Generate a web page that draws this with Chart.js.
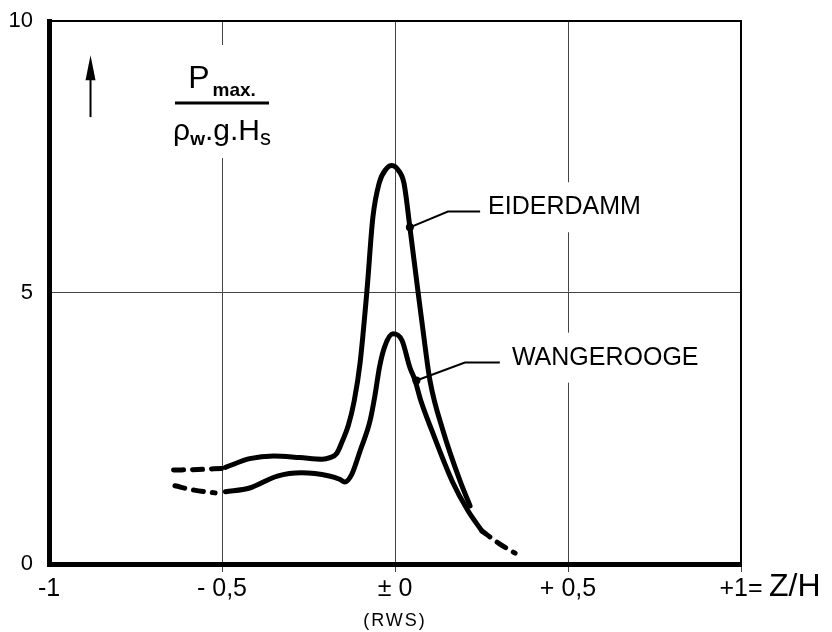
<!DOCTYPE html>
<html>
<head>
<meta charset="utf-8">
<script src="https://cdn.jsdelivr.net/npm/chart.js@4.4.0/dist/chart.umd.min.js"></script>
<style>
html, body { margin: 0; padding: 0; background: #fff; }
</style>
</head>
<body>
<canvas id="myChart" width="832" height="632"></canvas>
<script>
// x = z/H, y = Pmax / (rho_w . g . Hs)
var eiderX = [-0.49, -0.42, -0.35, -0.275, -0.21, -0.188, -0.168, -0.153, -0.135, -0.118, -0.101, -0.081, -0.064, -0.046, -0.025, -0.009, 0.01, 0.026, 0.043, 0.066, 0.081, 0.101, 0.139, 0.188, 0.217];
var eiderY = [1.78, 1.94, 1.99, 1.96, 1.93, 1.96, 2.04, 2.25, 2.55, 3.0, 3.7, 5.04, 6.38, 7.01, 7.28, 7.34, 7.25, 7.01, 6.2, 5.04, 4.3, 3.38, 2.45, 1.53, 1.07];
var eiderDashX = [-0.64, -0.57, -0.5];
var eiderDashY = [1.73, 1.74, 1.76];

var wangX = [-0.49, -0.42, -0.34, -0.27, -0.19, -0.16, -0.145, -0.125, -0.1, -0.072, -0.058, -0.045, -0.03, -0.006, 0.02, 0.043, 0.058, 0.075, 0.107, 0.165, 0.211, 0.251];
var wangY = [1.33, 1.4, 1.62, 1.68, 1.62, 1.56, 1.51, 1.65, 2.1, 2.64, 3.1, 3.62, 4.0, 4.24, 4.12, 3.62, 3.38, 3.0, 2.45, 1.53, 0.98, 0.61];
var wangDashLeftX = [-0.636, -0.58, -0.52];
var wangDashLeftY = [1.44, 1.36, 1.31];
var wangDashRightX = [0.251, 0.3, 0.347];
var wangDashRightY = [0.61, 0.38, 0.2];

var xTicks = {'-1': '-1', '-0.5': '- 0,5', '0': '± 0', '0.5': '+ 0,5', '1': '+1='};
var yTicks = {'0': '0', '5': '5', '10': '10'};

// curve labels: marker on the curve, leader bend, leader end, text start
var labels = [
    {text: 'EIDERDAMM', pts: [[0.043, 6.2], [0.153, 6.49], [0.246, 6.49]], tx: 0.269, ty: 6.57},
    {text: 'WANGEROOGE', pts: [[0.062, 3.38], [0.202, 3.71], [0.303, 3.71]], tx: 0.338, ty: 3.8}
];

function pts(xs, ys) {
    return xs.map(function(x, i) { return {x: x, y: ys[i]}; });
}

function line(data, dashed) {
    return {
        data: data,
        showLine: true,
        borderColor: '#000',
        borderWidth: 5,
        pointRadius: 0,
        borderCapStyle: 'round',
        borderJoinStyle: 'round',
        borderDash: dashed ? [10, 9] : [],
        cubicInterpolationMode: 'monotone'
    };
}

var extras = {
    id: 'extras',
    beforeDatasetsDraw: function(chart) {
        var ctx = chart.ctx, xs = chart.scales.x, ys = chart.scales.y, a = chart.chartArea;
        ctx.save();
        // gaps in the grid behind the texts
        ctx.fillStyle = '#fff';
        ctx.font = '25px "Liberation Sans", Arial, sans-serif';
        labels.forEach(function(l) {
            var w = ctx.measureText(l.text).width;
            var px = xs.getPixelForValue(l.tx), py = ys.getPixelForValue(l.ty);
            ctx.fillRect(px - 4, py - 25, w + 8, 50);
        });
        var fx = xs.getPixelForValue(-0.5), fy = ys.getPixelForValue(8.49);
        ctx.fillRect(fx - 60, fy - 58, 120, 113);
        // top and right frame
        ctx.strokeStyle = '#000';
        ctx.lineWidth = 2;
        ctx.beginPath();
        ctx.moveTo(a.left, a.top);
        ctx.lineTo(a.right, a.top);
        ctx.lineTo(a.right, a.bottom);
        ctx.stroke();
        ctx.restore();
    },
    afterDatasetsDraw: function(chart) {
        var ctx = chart.ctx, xs = chart.scales.x, ys = chart.scales.y, a = chart.chartArea;
        ctx.save();
        ctx.fillStyle = '#000';
        ctx.strokeStyle = '#000';
        // leaders and labels
        labels.forEach(function(l) {
            ctx.lineWidth = 2;
            ctx.beginPath();
            l.pts.forEach(function(p, i) {
                var px = xs.getPixelForValue(p[0]), py = ys.getPixelForValue(p[1]);
                if (i === 0) ctx.moveTo(px, py); else ctx.lineTo(px, py);
            });
            ctx.stroke();
            ctx.beginPath();
            ctx.arc(xs.getPixelForValue(l.pts[0][0]), ys.getPixelForValue(l.pts[0][1]), 4, 0, Math.PI * 2);
            ctx.fill();
            ctx.font = '25px "Liberation Sans", Arial, sans-serif';
            ctx.textBaseline = 'middle';
            ctx.textAlign = 'left';
            ctx.fillText(l.text, xs.getPixelForValue(l.tx), ys.getPixelForValue(l.ty));
        });

        // formula
        var fx = xs.getPixelForValue(-0.5), fy = ys.getPixelForValue(8.49);
        ctx.textBaseline = 'alphabetic';
        ctx.textAlign = 'left';
        ctx.lineWidth = 3;
        ctx.beginPath();
        ctx.moveTo(fx - 47, fy);
        ctx.lineTo(fx + 47, fy);
        ctx.stroke();
        var big = '32px "Liberation Sans", Arial, sans-serif';
        var sub = 'bold 19px "Liberation Sans", Arial, sans-serif';
        ctx.font = big;
        var wP = ctx.measureText('P').width;
        ctx.font = sub;
        var wM = ctx.measureText('max.').width;
        var x0 = fx - (wP + 3 + wM) / 2;
        ctx.font = big;
        ctx.fillText('P', x0, fy - 15);
        ctx.font = sub;
        ctx.fillText('max.', x0 + wP + 3, fy - 7);

        var den = '30px "Liberation Sans", Arial, sans-serif';
        var parts = [
            {t: 'ρ', f: den, dy: 0},
            {t: 'w', f: 'bold 19px "Liberation Sans", Arial, sans-serif', dy: 5},
            {t: '.g.H', f: den, dy: 0},
            {t: 's', f: '22px "Liberation Sans", Arial, sans-serif', dy: 5}
        ];
        var tw = 0;
        parts.forEach(function(p) { ctx.font = p.f; p.w = ctx.measureText(p.t).width; tw += p.w; });
        var cx = fx - tw / 2;
        parts.forEach(function(p) {
            ctx.font = p.f;
            ctx.fillText(p.t, cx, fy + 37 + p.dy);
            cx += p.w;
        });

        // arrow
        var ax = xs.getPixelForValue(-0.88), ay1 = ys.getPixelForValue(8.23), ay2 = ys.getPixelForValue(9.37);
        ctx.lineWidth = 2;
        ctx.beginPath();
        ctx.moveTo(ax, ay1);
        ctx.lineTo(ax, ay2 + 15);
        ctx.stroke();
        ctx.beginPath();
        ctx.moveTo(ax, ay2);
        ctx.lineTo(ax - 5, ay2 + 25);
        ctx.lineTo(ax + 5, ay2 + 25);
        ctx.closePath();
        ctx.fill();

        // axis name and reference level
        ctx.font = '32px "Liberation Sans", Arial, sans-serif';
        ctx.textBaseline = 'middle';
        ctx.fillText('Z/H', xs.getPixelForValue(1) + 28, a.bottom + 23);
        ctx.font = '18px "Liberation Sans", Arial, sans-serif';
        ctx.letterSpacing = '2px';
        ctx.textAlign = 'center';
        ctx.fillText('(RWS)', xs.getPixelForValue(0), a.bottom + 57);
        ctx.restore();
    }
};

var ctx = document.getElementById('myChart');
var myChart = new Chart(ctx, {
    type: 'scatter',
    data: {
        datasets: [
            line(pts(eiderX, eiderY), false),
            line(pts(eiderDashX, eiderDashY), true),
            line(pts(wangX, wangY), false),
            line(pts(wangDashLeftX, wangDashLeftY), true),
            line(pts(wangDashRightX, wangDashRightY), true)
        ]
    },
    options: {
        responsive: false,
        animation: false,
        layout: {padding: {left: 0, right: 91, top: 21, bottom: 26}},
        plugins: {legend: {display: false}, tooltip: {enabled: false}},
        scales: {
            x: {
                type: 'linear',
                min: -1,
                max: 1,
                ticks: {
                    stepSize: 0.5,
                    color: '#000',
                    padding: 2,
                    maxRotation: 0,
                    font: {family: '"Liberation Sans Narrow", "Liberation Sans", sans-serif', size: 25},
                    callback: function(v) { return xTicks[String(v)]; }
                },
                grid: {
                    color: function(c) { return Math.abs(c.tick.value) < 0.9 ? '#444' : 'rgba(0,0,0,0)'; },
                    tickColor: function(c) { return c.tick.value > -0.9 ? '#444' : 'rgba(0,0,0,0)'; },
                    lineWidth: 1,
                    tickLength: 8
                },
                border: {width: 5, color: '#000'}
            },
            y: {
                min: 0,
                max: 10,
                afterFit: function(s) {
                    s.width = 49;
                    s.paddingTop = 0;
                    s.paddingBottom = 0;
                },
                ticks: {
                    stepSize: 5,
                    color: '#000',
                    padding: 16,
                    font: {family: '"Liberation Sans", Arial, sans-serif', size: 22},
                    callback: function(v) { return yTicks[String(v)]; }
                },
                grid: {
                    color: function(c) { return c.tick.value === 5 ? '#444' : 'rgba(0,0,0,0)'; },
                    lineWidth: 1,
                    drawTicks: false
                },
                border: {width: 5, color: '#000'}
            }
        }
    },
    plugins: [extras]
});
</script>
</body>
</html>
